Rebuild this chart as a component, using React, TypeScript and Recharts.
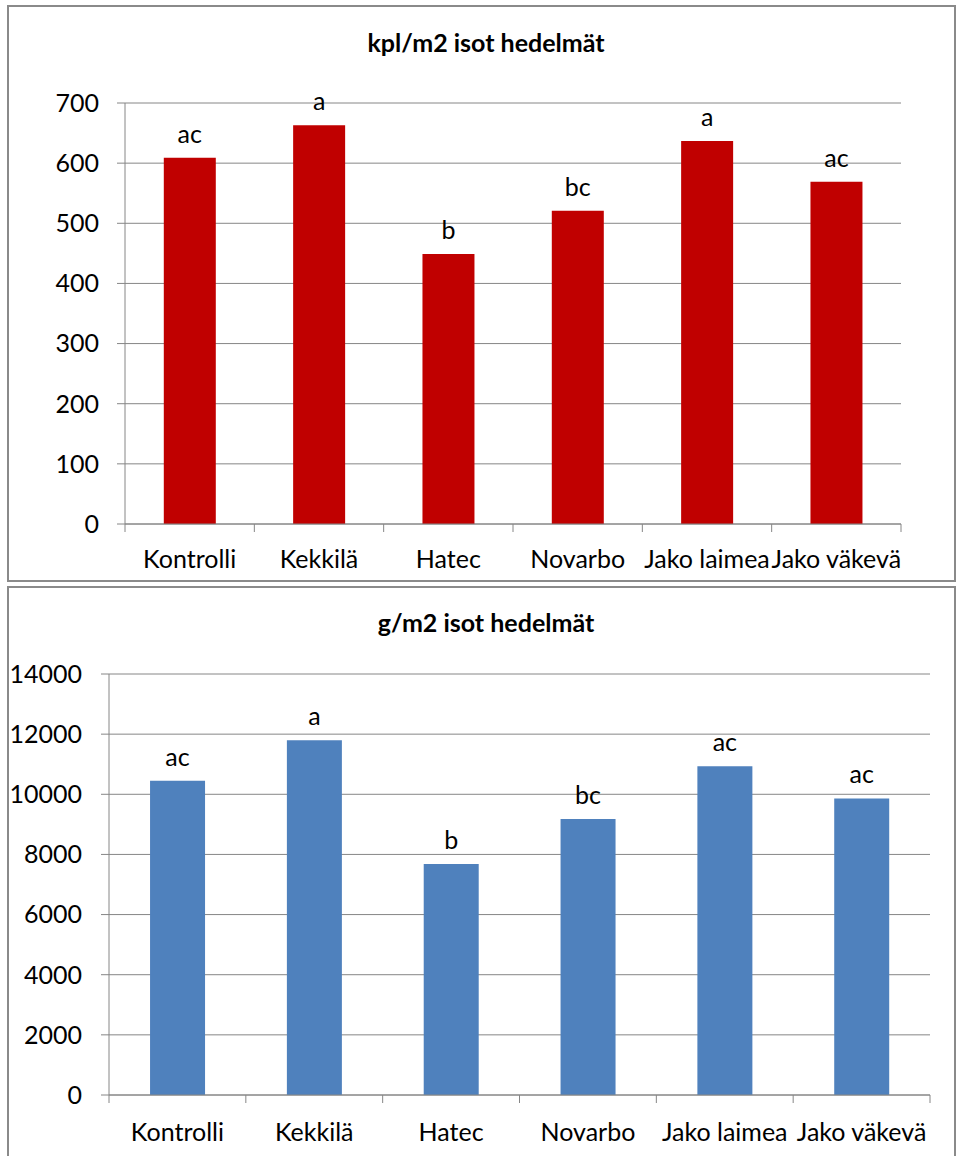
import { BarChart, Bar, XAxis, YAxis, CartesianGrid, LabelList } from "recharts";

// === Dados ===
const categories = ["Kontrolli", "Kekkilä", "Hatec", "Novarbo", "Jako laimea", "Jako väkevä"];

const kplValues = [609, 663, 449, 521, 637, 569];
const kplLetters = ["ac", "a", "b", "bc", "a", "ac"];
const kplTicks = [0, 100, 200, 300, 400, 500, 600, 700];

const gramValues = [10450, 11800, 7680, 9180, 10930, 9860];
const gramLetters = ["ac", "a", "b", "bc", "ac", "ac"];
const gramTicks = [0, 2000, 4000, 6000, 8000, 10000, 12000, 14000];

const FONT = "Lato, 'Open Sans', sans-serif";
const FS = 25;
const GRID = "#868686";
const BORDER = "#8a8a8a";

const buildRows = (values: number[], letters: string[]) =>
  categories.map((name, i) => ({ name, value: values[i], letter: letters[i] }));

// tick do eixo X: texto no centro + marcas entre categorias (estilo Excel)
const makeXTick = (band: number, textDy: number) => (props: any) => {
  const { x, y, payload, index } = props;
  return (
    <g>
      {index === 0 && (
        <line x1={x - band / 2} x2={x - band / 2} y1={y} y2={y + 8} stroke={GRID} />
      )}
      <line x1={x + band / 2} x2={x + band / 2} y1={y} y2={y + 8} stroke={GRID} />
      <text
        x={x}
        y={y + textDy}
        textAnchor="middle"
        fill="#000"
        fontFamily={FONT}
        fontSize={FS}
      >
        {payload.value}
      </text>
    </g>
  );
};

interface PanelProps {
  title: string;
  rows: { name: string; value: number; letter: string }[];
  color: string;
  ticks: number[];
  left: number;
  top: number;
  width: number;
  height: number;
  margin: { top: number; right: number; bottom: number; left: number };
  yWidth: number;
  xHeight: number;
  yTickMargin: number;
  textDy: number;
  titleX: number;
  titleY: number;
}

const Panel = (p: PanelProps) => {
  const plotW = p.width - p.yWidth - p.margin.left - p.margin.right;
  const band = plotW / p.rows.length;
  return (
    <div
      style={{
        position: "absolute",
        left: p.left,
        top: p.top,
        width: p.width,
        height: p.height,
      }}
    >
      <div
        style={{
          position: "absolute",
          inset: 0,
          border: `2px solid ${BORDER}`,
          boxSizing: "border-box",
        }}
      />
      <svg
        width={p.width}
        height={p.height}
        style={{ position: "absolute", left: 0, top: 0 }}
      >
        <text
          x={p.titleX}
          y={p.titleY}
          textAnchor="middle"
          fontFamily={FONT}
          fontWeight="bold"
          fontSize={25}
          fill="#000"
        >
          {p.title}
        </text>
      </svg>
      <div style={{ position: "absolute", left: 0, top: 0 }}>
        <BarChart
          width={p.width}
          height={p.height}
          data={p.rows}
          margin={p.margin}
          barCategoryGap="30%"
        >
          <CartesianGrid vertical={false} stroke={GRID} />
          <XAxis
            dataKey="name"
            height={p.xHeight}
            axisLine={{ stroke: GRID }}
            tickLine={false}
            tickSize={0}
            tickMargin={0}
            interval={0}
            tick={makeXTick(band, p.textDy)}
          />
          <YAxis
            width={p.yWidth}
            domain={[0, p.ticks[p.ticks.length - 1]]}
            ticks={p.ticks}
            interval={0}
            axisLine={{ stroke: GRID }}
            tickLine={{ stroke: GRID }}
            tickSize={8}
            tickMargin={p.yTickMargin}
            tick={{ fill: "#000", fontFamily: FONT, fontSize: FS }}
          />
          <Bar dataKey="value" fill={p.color} isAnimationActive={false}>
            <LabelList
              dataKey="letter"
              position="top"
              offset={15}
              fill="#000"
              fontFamily={FONT}
              fontSize={FS}
            />
          </Bar>
        </BarChart>
      </div>
    </div>
  );
};

export default function App() {
  return (
    <div
      style={{
        position: "absolute",
        left: 0,
        top: 0,
        width: 957,
        height: 1156,
        overflow: "hidden",
        background: "#fff",
      }}
    >
      <Panel
        title="kpl/m2 isot hedelmät"
        rows={buildRows(kplValues, kplLetters)}
        color="#C00000"
        ticks={kplTicks}
        left={7}
        top={5}
        width={949}
        height={577}
        margin={{ top: 98, right: 55, bottom: 0, left: 0 }}
        yWidth={118}
        xHeight={58}
        yTickMargin={18}
        textDy={44}
        titleX={479}
        titleY={47}
      />
      <Panel
        title="g/m2 isot hedelmät"
        rows={buildRows(gramValues, gramLetters)}
        color="#4F81BD"
        ticks={gramTicks}
        left={7}
        top={586}
        width={949}
        height={575}
        margin={{ top: 88, right: 26, bottom: 0, left: 0 }}
        yWidth={102}
        xHeight={66}
        yTickMargin={19}
        textDy={46}
        titleX={479}
        titleY={46}
      />
    </div>
  );
}
